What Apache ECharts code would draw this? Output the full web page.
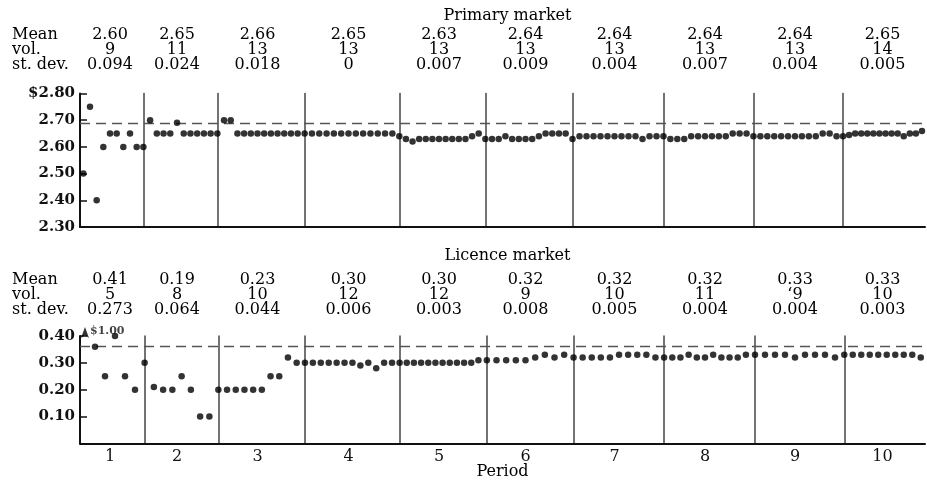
<!DOCTYPE html>
<html><head><meta charset="utf-8">
<script src="https://cdn.jsdelivr.net/npm/echarts@6/dist/echarts.min.js"></script>
<style>html,body{margin:0;padding:0;background:#fff}#c{width:927px;height:481px}</style>
</head><body><div id="c"></div>
<script>
// ---------- data ----------
const periods = ['1','2','3','4','5','6','7','8','9','10'];

const primaryMean = ['2.60','2.65','2.66','2.65','2.63','2.64','2.64','2.64','2.64','2.65'];
const primaryVol  = ['9','11','13','13','13','13','13','13','13','14'];
const primaryStd  = ['0.094','0.024','0.018','0','0.007','0.009','0.004','0.007','0.004','0.005'];

const licenceMean = ['0.41','0.19','0.23','0.30','0.30','0.32','0.32','0.32','0.33','0.33'];
const licenceVol  = ['5','8','10','12','12','9','10','11','\u20189','10'];
const licenceStd  = ['0.273','0.064','0.044','0.006','0.003','0.008','0.005','0.004','0.004','0.003'];

const primaryP1  = [2.50,2.75,2.40,2.60,2.65,2.65,2.60,2.65,2.60];
const primaryP2  = [2.60,2.70,2.65,2.65,2.65,2.69,2.65,2.65,2.65,2.65,2.65];
const primaryP3  = [2.65,2.70,2.70,2.65,2.65,2.65,2.65,2.65,2.65,2.65,2.65,2.65,2.65];
const primaryP4  = [2.65,2.65,2.65,2.65,2.65,2.65,2.65,2.65,2.65,2.65,2.65,2.65,2.65];
const primaryP5  = [2.64,2.63,2.62,2.63,2.63,2.63,2.63,2.63,2.63,2.63,2.63,2.64,2.65];
const primaryP6  = [2.63,2.63,2.63,2.64,2.63,2.63,2.63,2.63,2.64,2.65,2.65,2.65,2.65];
const primaryP7  = [2.63,2.64,2.64,2.64,2.64,2.64,2.64,2.64,2.64,2.64,2.63,2.64,2.64];
const primaryP8  = [2.64,2.63,2.63,2.63,2.64,2.64,2.64,2.64,2.64,2.64,2.65,2.65,2.65];
const primaryP9  = [2.64,2.64,2.64,2.64,2.64,2.64,2.64,2.64,2.64,2.64,2.65,2.65,2.64];
const primaryP10 = [2.64,2.645,2.65,2.65,2.65,2.65,2.65,2.65,2.65,2.65,2.64,2.65,2.65,2.66];

const licenceP1  = [1.00,0.36,0.25,0.40,0.25,0.20];
const licenceP2  = [0.30,0.21,0.20,0.20,0.25,0.20,0.10,0.10];
const licenceP3  = [0.20,0.20,0.20,0.20,0.20,0.20,0.25,0.25,0.32,0.30];
const licenceP4  = [0.30,0.30,0.30,0.30,0.30,0.30,0.30,0.29,0.30,0.28,0.30,0.30];
const licenceP5  = [0.30,0.30,0.30,0.30,0.30,0.30,0.30,0.30,0.30,0.30,0.30,0.31];
const licenceP6  = [0.31,0.31,0.31,0.31,0.31,0.32,0.33,0.32,0.33];
const licenceP7  = [0.32,0.32,0.32,0.32,0.32,0.33,0.33,0.33,0.33,0.32];
const licenceP8  = [0.32,0.32,0.32,0.33,0.32,0.32,0.33,0.32,0.32,0.32,0.33];
const licenceP9  = [0.33,0.33,0.33,0.33,0.32,0.33,0.33,0.33,0.32];
const licenceP10 = [0.33,0.33,0.33,0.33,0.33,0.33,0.33,0.33,0.33,0.32];

const primaryEquilibrium = 2.69;
const licenceEquilibrium = 0.36;
const primaryTickLabels = ['$2.80','2.70','2.60','2.50','2.40','2.30'];
const licenceTickLabels = ['0.40','0.30','0.20','0.10'];
const primaryTitle = 'Primary market';
const licenceTitle = 'Licence market';
const rowLabels = ['Mean','vol.','st. dev.'];
const xTitle = 'Period';

// ---------- layout ----------
const FONT = 'DejaVu Serif';
const edges = [80,140,214,301,396,482,569,660,750,840,925];
const panels = [
  {top:93.5, height:133.5, min:2.3, max:2.8, eq:primaryEquilibrium, ticks:primaryTickLabels,
   prices:[primaryP1,primaryP2,primaryP3,primaryP4,primaryP5,primaryP6,primaryP7,primaryP8,primaryP9,primaryP10],
   rows:[primaryMean,primaryVol,primaryStd], rowY:[35,50,65], title:primaryTitle, titleY:16, showPeriods:false},
  {top:336, height:107.3, min:0, max:0.4, eq:licenceEquilibrium, ticks:licenceTickLabels,
   prices:[licenceP1,licenceP2,licenceP3,licenceP4,licenceP5,licenceP6,licenceP7,licenceP8,licenceP9,licenceP10],
   rows:[licenceMean,licenceVol,licenceStd], rowY:[280,295,310], title:licenceTitle, titleY:256, showPeriods:true}
];

const grid = [], xAxis = [], yAxis = [], series = [], graphic = [];
let gi = 0;
panels.forEach(pn => {
  // panel frame grid
  grid.push({left:edges[0], top:pn.top, width:edges[10]-edges[0], height:pn.height});
  xAxis.push({gridIndex:gi, type:'value', min:0, max:1, axisLine:{show:true, lineStyle:{color:'#111', width:2}},
    axisTick:{show:false}, axisLabel:{show:false}, splitLine:{show:false}});
  yAxis.push({gridIndex:gi, type:'value', min:pn.min, max:pn.max, interval:0.1,
    axisLine:{show:true, lineStyle:{color:'#111', width:2}},
    axisTick:{show:true, inside:true, length:7, lineStyle:{color:'#111', width:1.5}},
    axisLabel:{margin:5, color:'#111', fontFamily:FONT, fontWeight:'bold', fontSize:15,
      formatter:v => { const k = Math.round((pn.max - v) / 0.1); return pn.ticks[k] || ''; }},
    splitLine:{show:false}});
  series.push({type:'scatter', xAxisIndex:gi, yAxisIndex:gi, data:[], silent:true,
    markLine:{silent:true, symbol:['none','none'], label:{show:false}, animation:false,
      lineStyle:{type:[10,6], color:'#555', width:1.3}, data:[{yAxis:pn.eq}]}});
  gi++;
  for (let p = 0; p < 10; p++) {
    const vals = pn.prices[p];
    grid.push({left:edges[p], top:pn.top, width:edges[p+1]-edges[p], height:pn.height});
    xAxis.push({gridIndex:gi, type:'value', min:-0.5, max:vals.length-0.5,
      axisLine:{show:false}, axisTick:{show:false}, axisLabel:{show:false}, splitLine:{show:false},
      name: pn.showPeriods ? periods[p] : '', nameLocation:'middle', nameGap:6,
      nameTextStyle:{fontFamily:FONT, fontSize:16, color:'#111'}});
    yAxis.push({gridIndex:gi, type:'value', min:pn.min, max:pn.max,
      axisLine:{show:p>0, lineStyle:{color:'#444', width:1.5}},
      axisTick:{show:false}, axisLabel:{show:false}, splitLine:{show:false}});
    series.push({type:'scatter', xAxisIndex:gi, yAxisIndex:gi, symbolSize:6.5, clip:false,
      itemStyle:{color:'#000'}, z:5,
      data: vals.map((v,i) => v > pn.max ? {
          value:[i, pn.max], symbol:'arrow', symbolSize:[6,11], symbolOffset:[0,-9],
          label:{show:true, position:'right', distance:1, formatter:'$' + v.toFixed(2),
            fontFamily:FONT, fontWeight:'bold', fontSize:11, color:'#111', offset:[0,-1]}
        } : [i, v])});
    gi++;
  }
  // header texts
  graphic.push({type:'text', x:(edges[0]+edges[10])/2 + 5, y:pn.titleY,
    style:{text:pn.title, font:'16px "' + FONT + '"', fill:'#000', textAlign:'center', textVerticalAlign:'middle'}});
  rowLabels.forEach((lab, r) => {
    graphic.push({type:'text', x:12, y:pn.rowY[r],
      style:{text:lab, font:'16px "' + FONT + '"', fill:'#000', textVerticalAlign:'middle', textAlign:'left'}});
    for (let p = 0; p < 10; p++) {
      graphic.push({type:'text', x:(edges[p]+edges[p+1])/2, y:pn.rowY[r],
        style:{text:pn.rows[r][p], font:'16px "' + FONT + '"', fill:'#000', textAlign:'center', textVerticalAlign:'middle'}});
    }
  });
});
graphic.push({type:'text', x:(edges[0]+edges[10])/2, y:472,
  style:{text:xTitle, font:'16px "' + FONT + '"', fill:'#000', textAlign:'center', textVerticalAlign:'middle'}});

const chart = echarts.init(document.getElementById('c'), null, {renderer:'canvas'});
chart.setOption({animation:false, backgroundColor:'#fff', grid, xAxis, yAxis, series, graphic});
</script></body></html>
